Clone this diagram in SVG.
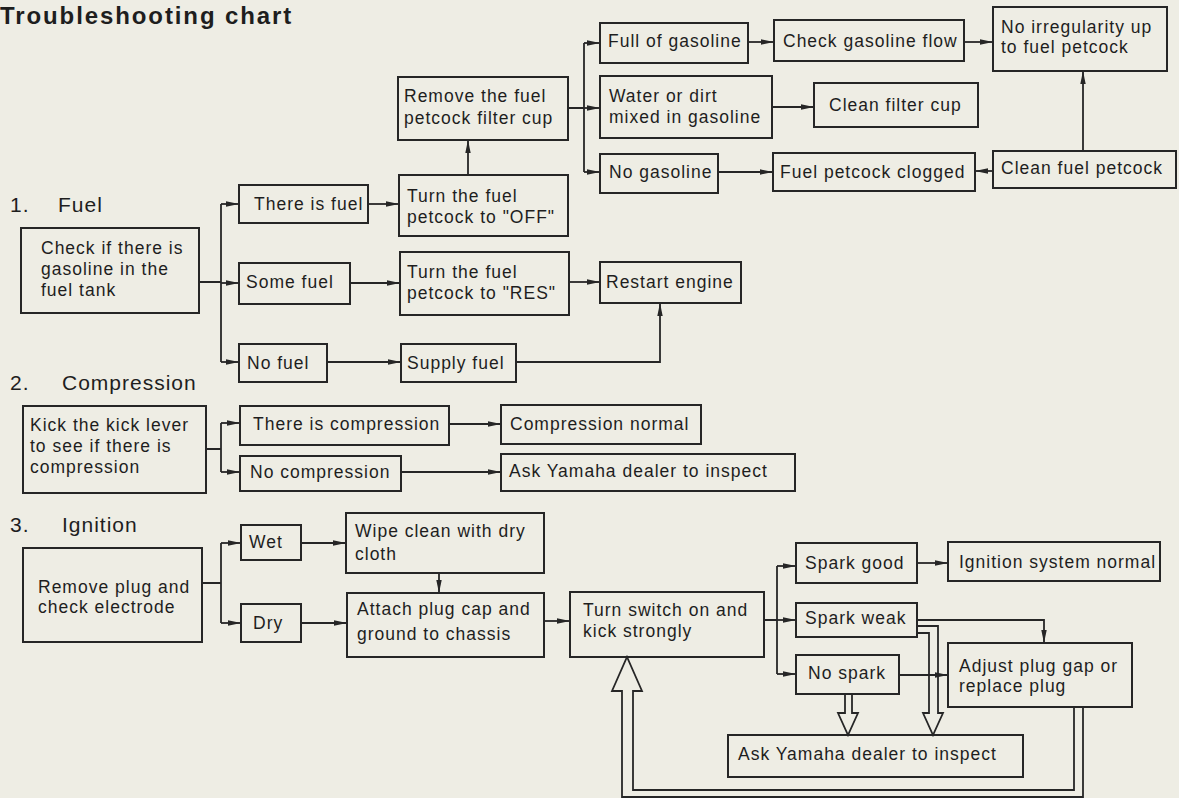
<svg xmlns="http://www.w3.org/2000/svg" width="1179" height="798" viewBox="0 0 1179 798">
<defs>
<style>
.b{fill:none;stroke:#262626;stroke-width:2}
.t{font-family:"Liberation Sans",Arial,sans-serif;font-size:17.5px;letter-spacing:1px;fill:#1e1e1e}
.h{font-family:"Liberation Sans",Arial,sans-serif;font-size:21px;letter-spacing:1px;fill:#1e1e1e}
.c{fill:none;stroke:#262626;stroke-width:1.8}
.ca{fill:none;stroke:#262626;stroke-width:1.8;marker-end:url(#a)}
</style>
<marker id="a" viewBox="0 0 13 8" refX="13" refY="4" markerWidth="13" markerHeight="8" orient="auto" markerUnits="userSpaceOnUse">
<path d="M0,1.3 L13,4 L0,6.7 z" fill="#262626"/>
</marker>
</defs>
<rect width="1179" height="798" fill="#eeede4"/>
<text x="0" y="24" font-family="'Liberation Sans',Arial,sans-serif" font-weight="bold" font-size="24" letter-spacing="1.9" fill="#1e1e1e">Troubleshooting chart</text>
<g id="sections">
<text class="h" x="10" y="212">1.</text><text class="h" x="58" y="212">Fuel</text>
<text class="h" x="10" y="390">2.</text><text class="h" x="62" y="390">Compression</text>
<text class="h" x="10" y="532">3.</text><text class="h" x="62" y="532">Ignition</text>
</g>
<g id="connectors">
<path class="c" d="M199,282 H221 M221,204 V362"/>
<path class="ca" d="M221,204 H239"/>
<path class="ca" d="M221,283 H239"/>
<path class="ca" d="M221,362 H239"/>
<path class="ca" d="M368,204 H399"/>
<path class="ca" d="M350,283 H400"/>
<path class="ca" d="M327,362 H401"/>
<path class="ca" d="M516,362 H660 V303"/>
<path class="ca" d="M569,282 H600"/>
<path class="ca" d="M468,175 V140"/>
<path class="c" d="M568,108 H584 M584,43 V172"/>
<path class="ca" d="M584,43 H600"/>
<path class="ca" d="M584,108 H600"/>
<path class="ca" d="M584,172 H600"/>
<path class="ca" d="M748,42 H774"/>
<path class="ca" d="M964,42 H993"/>
<path class="ca" d="M772,107 H814"/>
<path class="ca" d="M718,172 H773"/>
<path class="ca" d="M993,171 H975"/>
<path class="ca" d="M1083,151 V71"/>
<path class="c" d="M206,449 H221 M221,423 V472"/>
<path class="ca" d="M221,423 H240"/>
<path class="ca" d="M221,472 H240"/>
<path class="ca" d="M449,424 H501"/>
<path class="ca" d="M401,472 H501"/>
<path class="c" d="M202,583 H221 M221,543 V623"/>
<path class="ca" d="M221,543 H241"/>
<path class="ca" d="M221,623 H241"/>
<path class="ca" d="M301,543 H346"/>
<path class="ca" d="M301,623 H347"/>
<path class="ca" d="M439,573 V593"/>
<path class="ca" d="M544,621 H570"/>
<path class="c" d="M764,620 H777 M777,566 V674"/>
<path class="ca" d="M777,566 H796"/>
<path class="ca" d="M777,620 H796"/>
<path class="ca" d="M777,674 H796"/>
<path class="ca" d="M917,563 H948"/>
<path class="ca" d="M917,620 H1044 V643"/>
<path class="ca" d="M899,675 H948"/>
<path class="c" d="M845,694 V713 H838 L848,735 L858,713 H852 V694"/>
<path class="c" d="M917,626 H938 V713 H943 L933,735 L923,713 H929 V633 H917"/>
<path class="c" d="M1074,707 V790 H633 V691 H642 L627,657 L612,691 H622 V797 H1083 V707"/>
</g>
<g id="n_check"><rect class="b" x="21" y="228" width="178" height="85"/><text class="t" x="41" y="254">Check if there is</text><text class="t" x="41" y="275">gasoline in the</text><text class="t" x="41" y="296">fuel tank</text></g>
<g id="n_there_fuel"><rect class="b" x="239" y="185" width="129" height="38"/><text class="t" x="254" y="210">There is fuel</text></g>
<g id="n_some_fuel"><rect class="b" x="239" y="263" width="111" height="41"/><text class="t" x="246" y="288">Some fuel</text></g>
<g id="n_no_fuel"><rect class="b" x="239" y="344" width="88" height="38"/><text class="t" x="247" y="369">No fuel</text></g>
<g id="n_off"><rect class="b" x="399" y="175" width="169" height="61"/><text class="t" x="407" y="202">Turn the fuel</text><text class="t" x="407" y="223">petcock to "OFF"</text></g>
<g id="n_res"><rect class="b" x="400" y="252" width="169" height="63"/><text class="t" x="407" y="278">Turn the fuel</text><text class="t" x="407" y="299">petcock to "RES"</text></g>
<g id="n_supply"><rect class="b" x="401" y="344" width="115" height="38"/><text class="t" x="407" y="369">Supply fuel</text></g>
<g id="n_restart"><rect class="b" x="600" y="262" width="141" height="41"/><text class="t" x="606" y="288">Restart engine</text></g>
<g id="n_remove_cup"><rect class="b" x="398" y="77" width="170" height="63"/><text class="t" x="404" y="102">Remove the fuel</text><text class="t" x="404" y="124">petcock filter cup</text></g>
<g id="n_full"><rect class="b" x="600" y="23" width="148" height="40"/><text class="t" x="608" y="47">Full of gasoline</text></g>
<g id="n_water"><rect class="b" x="600" y="76" width="172" height="62"/><text class="t" x="609" y="102">Water or dirt</text><text class="t" x="609" y="123">mixed in gasoline</text></g>
<g id="n_nogas"><rect class="b" x="600" y="154" width="118" height="39"/><text class="t" x="609" y="178">No gasoline</text></g>
<g id="n_checkflow"><rect class="b" x="774" y="20" width="190" height="41"/><text class="t" x="783" y="47">Check gasoline flow</text></g>
<g id="n_noirreg"><rect class="b" x="993" y="7" width="174" height="64"/><text class="t" x="1001" y="33">No irregularity up</text><text class="t" x="1001" y="53">to fuel petcock</text></g>
<g id="n_cleancup"><rect class="b" x="814" y="83" width="164" height="44"/><text class="t" x="829" y="111">Clean filter cup</text></g>
<g id="n_clogged"><rect class="b" x="773" y="153" width="202" height="38"/><text class="t" x="780" y="178">Fuel petcock clogged</text></g>
<g id="n_cleanpet"><rect class="b" x="993" y="151" width="183" height="37"/><text class="t" x="1001" y="174">Clean fuel petcock</text></g>
<g id="n_kick"><rect class="b" x="23" y="406" width="183" height="87"/><text class="t" x="30" y="431">Kick the kick lever</text><text class="t" x="30" y="452">to see if there is</text><text class="t" x="30" y="473">compression</text></g>
<g id="n_therecomp"><rect class="b" x="240" y="406" width="209" height="39"/><text class="t" x="253" y="430">There is compression</text></g>
<g id="n_nocomp"><rect class="b" x="240" y="456" width="161" height="35"/><text class="t" x="250" y="478">No compression</text></g>
<g id="n_compnormal"><rect class="b" x="501" y="405" width="200" height="39"/><text class="t" x="510" y="430">Compression normal</text></g>
<g id="n_askcomp"><rect class="b" x="501" y="454" width="294" height="37"/><text class="t" x="509" y="477">Ask Yamaha dealer to inspect</text></g>
<g id="n_removeplug"><rect class="b" x="23" y="548" width="179" height="94"/><text class="t" x="38" y="593">Remove plug and</text><text class="t" x="38" y="613">check electrode</text></g>
<g id="n_wet"><rect class="b" x="241" y="525" width="60" height="35"/><text class="t" x="249" y="548">Wet</text></g>
<g id="n_dry"><rect class="b" x="241" y="604" width="60" height="38"/><text class="t" x="253" y="629">Dry</text></g>
<g id="n_wipe"><rect class="b" x="346" y="513" width="198" height="60"/><text class="t" x="355" y="537">Wipe clean with dry</text><text class="t" x="355" y="560">cloth</text></g>
<g id="n_attach"><rect class="b" x="347" y="593" width="197" height="64"/><text class="t" x="357" y="615">Attach plug cap and</text><text class="t" x="357" y="640">ground to chassis</text></g>
<g id="n_turnswitch"><rect class="b" x="570" y="592" width="194" height="65"/><text class="t" x="583" y="616">Turn switch on and</text><text class="t" x="583" y="637">kick strongly</text></g>
<g id="n_sparkgood"><rect class="b" x="796" y="543" width="121" height="40"/><text class="t" x="805" y="569">Spark good</text></g>
<g id="n_sparkweak"><rect class="b" x="796" y="603" width="121" height="34"/><text class="t" x="805" y="624">Spark weak</text></g>
<g id="n_nospark"><rect class="b" x="796" y="655" width="103" height="39"/><text class="t" x="808" y="679">No spark</text></g>
<g id="n_ignnormal"><rect class="b" x="948" y="542" width="212" height="39"/><text class="t" x="959" y="568">Ignition system normal</text></g>
<g id="n_adjust"><rect class="b" x="948" y="643" width="184" height="64"/><text class="t" x="959" y="672">Adjust plug gap or</text><text class="t" x="959" y="692">replace plug</text></g>
<g id="n_askign"><rect class="b" x="728" y="735" width="295" height="42"/><text class="t" x="738" y="760">Ask Yamaha dealer to inspect</text></g>
</svg>
